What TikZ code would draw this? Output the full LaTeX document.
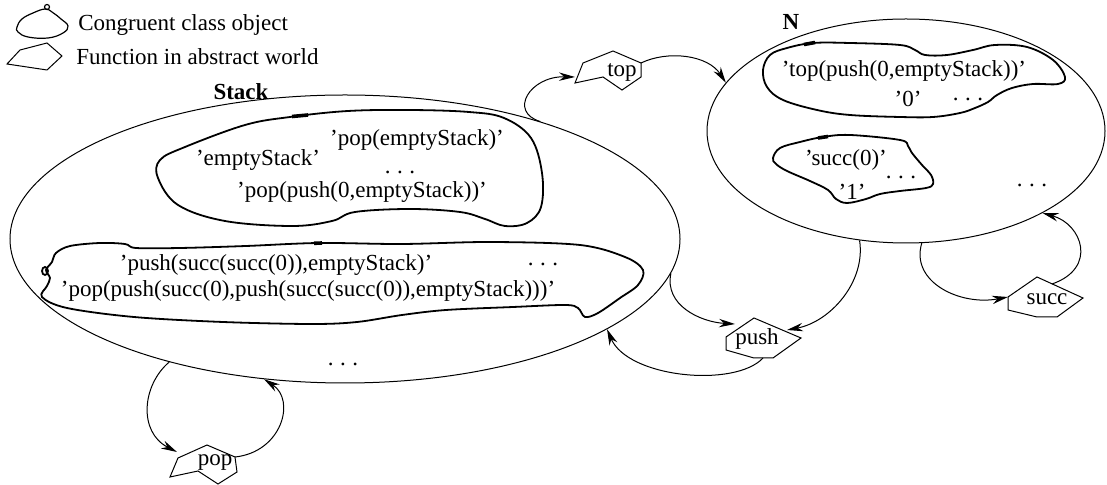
\documentclass[tikz,border=0pt]{standalone}
\usepackage{fontspec}
\setmainfont{Liberation Serif}
\usetikzlibrary{shapes.geometric,arrows.meta}
\newcommand{\spdots}{.\hspace{0.28em}.\hspace{0.28em}.}
\begin{document}
\begin{tikzpicture}[x=0.5pt,y=-0.5pt,
  txt/.style={font=\fontsize{11.5}{13}\selectfont, inner sep=0pt},
  lbl/.style={font=\fontsize{11.5}{13}\selectfont\bfseries, inner sep=0pt},
  outer/.style={draw, ellipse, inner sep=0pt, line width=0.5pt},
  blob/.style={line width=0.9pt},
  blobmark/.style={line width=1.8pt},
  fnshape/.style={line width=0.5pt, line join=miter},
  link/.style={line width=0.5pt, -{Stealth[length=8pt,width=4.2pt,inset=2.6pt]}},
]
\useasboundingbox (0,0) rectangle (1107,485);

% ---------- legend ----------
\draw[line width=0.6pt] plot[smooth cycle, tension=0.7] coordinates
  {(17,27) (22,19) (33,13) (45,9) (52,12) (61,19) (68,26) (63,33) (48,38) (28,37) (18,32)};
\draw[line width=0.6pt] (47,7) circle[radius=2.5];
\node[txt, anchor=west] (legblob) at (78,25) {Congruent class object};
\draw[fnshape] (7,64) -- (20,50) -- (47,43) -- (62,56) -- (47,70) -- cycle;
\node[txt, anchor=west] (legfn) at (76,57) {Function in abstract world};

% ---------- sort Stack ----------
\node[outer, minimum width=335pt, minimum height=144pt] (stack) at (345,239) {};
\node[lbl] (stacklbl) at (241,92) {Stack};

\draw[blob] plot[smooth cycle, tension=0.6] coordinates
  {(158,178) (160,160) (185,147) (245,125) (290,117) (348,111) (410,110) (469,112)
   (504,118) (531,138) (542,173) (541,207) (527,223) (505,226) (485,219) (460,212)
   (410,209) (355,212) (332,221) (292,226) (225,221) (178,205)};
\draw[blobmark] (292,116.5) -- (308,115);
\node[txt] (s1) at (417,140) {'pop(emptyStack)'};
\node[txt] (s2) at (258,160) {'emptyStack'};
\node[txt] (s3) at (400,172) {\spdots};
\node[txt] (s4) at (362,192) {'pop(push(0,emptyStack))'};

\draw[blob] plot[smooth cycle, tension=0.55] coordinates
  {(56,253) (70,246) (100,243) (125,244) (136,248) (180,248) (246,246) (319,243)
   (402,244) (491,242) (580,245) (625,257) (643,270) (638,285) (620,298) (598,313)
   (585,317) (578,308) (565,305) (513,307) (446,310) (402,315) (357,322) (312,324)
   (223,322) (134,317) (67,308) (42,297) (47,286) (50,278) (46,270) (52,262)};
\draw[blob] (45,271) ellipse[x radius=3, y radius=4];
\draw[blobmark] (314,243.3) -- (322,243);
\node[txt] (s5) at (276,265) {'push(succ(succ(0)),emptyStack)'};
\node[txt] (s6) at (308,291) {'pop(push(succ(0),push(succ(succ(0)),emptyStack)))'};
\node[txt] (s7) at (543,264) {\spdots};
\node[txt] (s8) at (343,364) {\spdots};

% ---------- sort N ----------
\node[outer, minimum width=199pt, minimum height=112pt] (n) at (906,131) {};
\node[lbl] (nlbl) at (791,22) {N};

\draw[blob] plot[smooth cycle, tension=0.6] coordinates
  {(763,70) (770,55) (787,48) (813,43) (850,43) (900,45) (915,50) (925,55) (947,55)
   (973,50) (995,45) (1027,47) (1053,60) (1065,77) (1058,84) (1033,84) (1012,88)
   (997,95) (988,102) (975,108) (960,113) (933,117) (900,117) (850,115) (817,110)
   (783,100) (767,87)};
\draw[blobmark] (804,44.5) -- (815,42.5);
\node[txt] (n1) at (904,71) {'top(push(0,emptyStack))'};
\node[txt] (n2) at (908,99) {'0'};
\node[txt] (n3) at (968,99) {\spdots};

\draw[blob] plot[smooth cycle, tension=0.6] coordinates
  {(773,158) (780,148) (800,142) (823,137) (850,135) (900,140) (908,146) (912,153)
   (922,165) (931,175) (933,184) (926,188) (900,191) (880,194) (866,199) (847,203)
   (836,199) (828,190) (810,181) (787,171) (776,164)};
\draw[blobmark] (818,138) -- (828,136.5);
\node[txt] (n4) at (846,160) {'succ(0)'};
\node[txt] (n5) at (901,177) {\spdots};
\node[txt] (n6) at (852,192) {'1'};
\node[txt] (n7) at (1032,185) {\spdots};

% ---------- functions ----------
% top
\coordinate (top-a) at (583,63);
\coordinate (top-b) at (613,51);
\coordinate (top-c) at (641,63);
\coordinate (top-d) at (641,77);
\coordinate (top-e) at (622,90);
\coordinate (top-f) at (603,77);
\coordinate (top-g) at (575,83);
\coordinate (top-in) at (575,77);
\draw[fnshape] (top-a) -- (top-b) -- (top-c) -- (top-d) -- (top-e) -- (top-f) -- (top-g) -- cycle;
\node[txt] (top) at (622,72) {top};

% push
\coordinate (push-a) at (726,337);
\coordinate (push-b) at (754,318);
\coordinate (push-c) at (801,338);
\coordinate (push-d) at (773,358);
\coordinate (push-e) at (754,358);
\coordinate (push-f) at (726,350);
\coordinate (push-in1) at (735,324);
\coordinate (push-in2) at (787,330);
\coordinate (push-out) at (763,358);
\draw[fnshape] (push-a) -- (push-b) -- (push-c) -- (push-d) -- (push-e) -- (push-f) -- cycle;
\node[txt] (push) at (757,339) {push};

% succ
\coordinate (succ-a) at (1008,297);
\coordinate (succ-b) at (1037,277);
\coordinate (succ-c) at (1083,298);
\coordinate (succ-d) at (1057,317);
\coordinate (succ-e) at (1037,317);
\coordinate (succ-f) at (1008,310);
\coordinate (succ-out) at (1052,284);
\draw[fnshape] (succ-a) -- (succ-b) -- (succ-c) -- (succ-d) -- (succ-e) -- (succ-f) -- cycle;
\node[txt] (succ) at (1047,299) {succ};

% pop
\coordinate (pop-a) at (178,458);
\coordinate (pop-b) at (207,445);
\coordinate (pop-c) at (235,457);
\coordinate (pop-d) at (237,472);
\coordinate (pop-e) at (218,484);
\coordinate (pop-f) at (198,471);
\coordinate (pop-g) at (170,477);
\coordinate (pop-in) at (177,452);
\draw[fnshape] (pop-a) -- (pop-b) -- (pop-c) -- (pop-d) -- (pop-e) -- (pop-f) -- (pop-g) -- cycle;
\node[txt] (pop) at (215,463) {pop};

% ---------- connectors ----------
\draw[link] (stack.31.5) .. controls (508,112) and (530,76) .. (top-in);
\draw[link] (top-c) .. controls (668,50) and (708,55) .. (n.165);
\draw[link] (stack.-6.7) .. controls (664,305) and (700,322) .. (push-in1);
\draw[link] (n.247.5) .. controls (866,282) and (830,322) .. (push-in2);
\draw[link] (push-out) .. controls (735,388) and (628,378) .. (stack.-19.1);
\draw[link] (n.278) .. controls (910,282) and (960,306) .. (succ-a);
\draw[link] (succ-out) .. controls (1098,268) and (1082,224) .. (n.-31.8);
\draw[link] (stack.215.2) .. controls (142,385) and (138,432) .. (pop-in);
\draw[link] (pop-c) .. controls (282,452) and (296,400) .. (stack.240.6);
\end{tikzpicture}
\end{document}
